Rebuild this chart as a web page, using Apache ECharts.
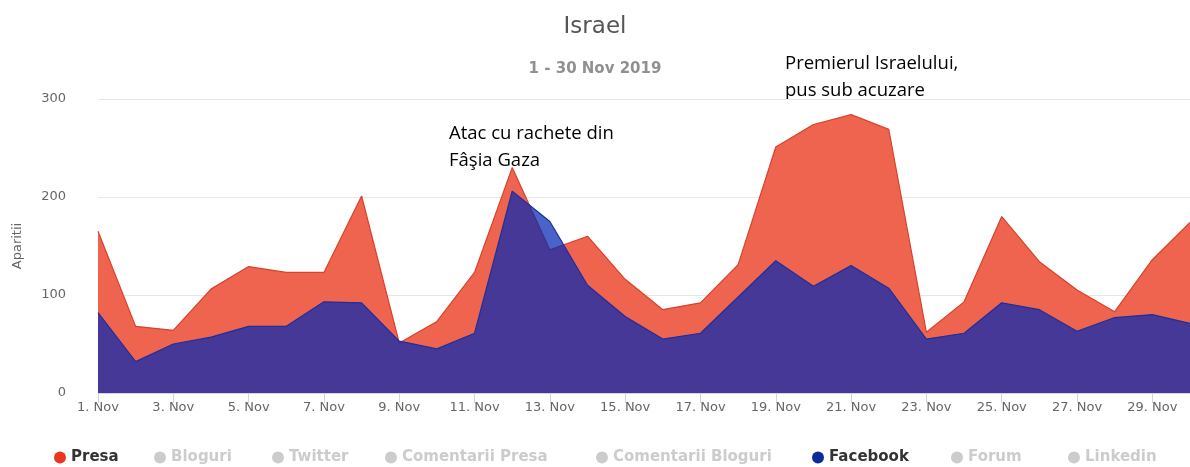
<!DOCTYPE html>
<html>
<head>
<meta charset="utf-8">
<script src="https://cdn.jsdelivr.net/npm/echarts@6/dist/echarts.min.js"></script>
<style>
  html, body { margin: 0; padding: 0; background: #fff; }
  #myChart { width: 1190px; height: 467px; }
</style>
</head>
<body>
<div id="myChart"></div>
<script>
// Data
const days = [];
for (let d = 1; d <= 30; d++) days.push(d + ". Nov");

const presa = [165, 68, 64, 106, 129, 123, 123, 201, 51, 73,
               123, 230, 146, 160, 116, 85, 92, 131, 251, 274,
               284, 269, 62, 93, 180, 134, 105, 83, 136, 174];
const facebook = [82, 32, 50, 57, 68, 68, 93, 92, 53, 45,
                  61, 206, 175, 110, 78, 55, 61, 98, 135, 109,
                  130, 107, 55, 61, 92, 85, 63, 77, 80, 71];

const legendNames = ["Presa", "Bloguri", "Twitter", "Comentarii Presa", "Comentarii Bloguri", "Facebook", "Forum", "Linkedin"];
const legendX = [49, 149, 267, 380, 591, 807, 946, 1063];
const hiddenSeries = ["Bloguri", "Twitter", "Comentarii Presa", "Comentarii Bloguri", "Forum", "Linkedin"];

let myChart = echarts.init(document.getElementById("myChart"));

const selected = {};
hiddenSeries.forEach((n) => (selected[n] = false));

// one legend per item so each can sit where the reference has it
const legends = legendNames.map((n, i) => ({
  data: [n],
  left: legendX[i],
  top: 445,
  icon: "circle",
  itemWidth: 12,
  itemHeight: 12,
  selected: selected,
  inactiveColor: "#cccccc",
  textStyle: { fontFamily: "DejaVu Sans", fontSize: 15, fontWeight: "bold", color: "#333333" },
}));

let series = [
  {
    name: "Presa",
    type: "line",
    data: presa,
    symbol: "none",
    z: 2,
    lineStyle: { color: "#d8412c", width: 1.2 },
    itemStyle: { color: "#e8361f" },
    areaStyle: { color: "#ef644e", opacity: 1 },
  },
  {
    name: "Facebook",
    type: "line",
    data: facebook,
    symbol: "none",
    z: 3,
    lineStyle: { color: "#1d2f9e", width: 1.2 },
    itemStyle: { color: "#0b2a9c" },
    areaStyle: { color: "rgb(4,39,179)", opacity: 0.72 },
  },
];
hiddenSeries.forEach((n) => series.push({ name: n, type: "line", data: [], itemStyle: { color: "#999" } }));

let option = {
  animation: false,
  title: [
    {
      text: "Israel",
      left: "center",
      top: 11,
      textStyle: { fontFamily: "DejaVu Sans", fontSize: 23, fontWeight: "normal", color: "#555555" },
    },
    {
      text: "1 - 30 Nov 2019",
      left: "center",
      top: 57,
      textStyle: { fontFamily: "DejaVu Sans", fontSize: 15, fontWeight: "bold", color: "#909090" },
    },
  ],
  legend: legends,
  grid: { left: 98, right: 0, top: 99, bottom: 74 },
  xAxis: {
    type: "category",
    data: days,
    boundaryGap: false,
    axisLine: { lineStyle: { color: "#ccd6eb" } },
    axisTick: { interval: 1, length: 10, lineStyle: { color: "#ccd6eb" } },
    axisLabel: { interval: 1, margin: 8, fontFamily: "DejaVu Sans", fontSize: 13, color: "#666666" },
  },
  yAxis: {
    type: "value",
    min: 0,
    max: 300,
    interval: 100,
    name: "Aparitii",
    nameLocation: "middle",
    nameGap: 74,
    nameTextStyle: { fontFamily: "DejaVu Sans", fontSize: 13, color: "#666666" },
    axisLabel: { margin: 32, fontFamily: "DejaVu Sans", fontSize: 13, color: "#666666" },
    splitLine: { lineStyle: { color: "#e6e6e6" } },
  },
  graphic: [
    {
      type: "text",
      left: 449,
      top: 120,
      style: { text: "Atac cu rachete din\nFâşia Gaza", font: "18.5px 'Open Sans'", fill: "#000", lineHeight: 27 },
    },
    {
      type: "text",
      left: 785,
      top: 50,
      style: { text: "Premierul Israelului,\npus sub acuzare", font: "18.5px 'Open Sans'", fill: "#000", lineHeight: 27 },
    },
  ],
  series: series,
};

myChart.setOption(option);
</script>
</body>
</html>
